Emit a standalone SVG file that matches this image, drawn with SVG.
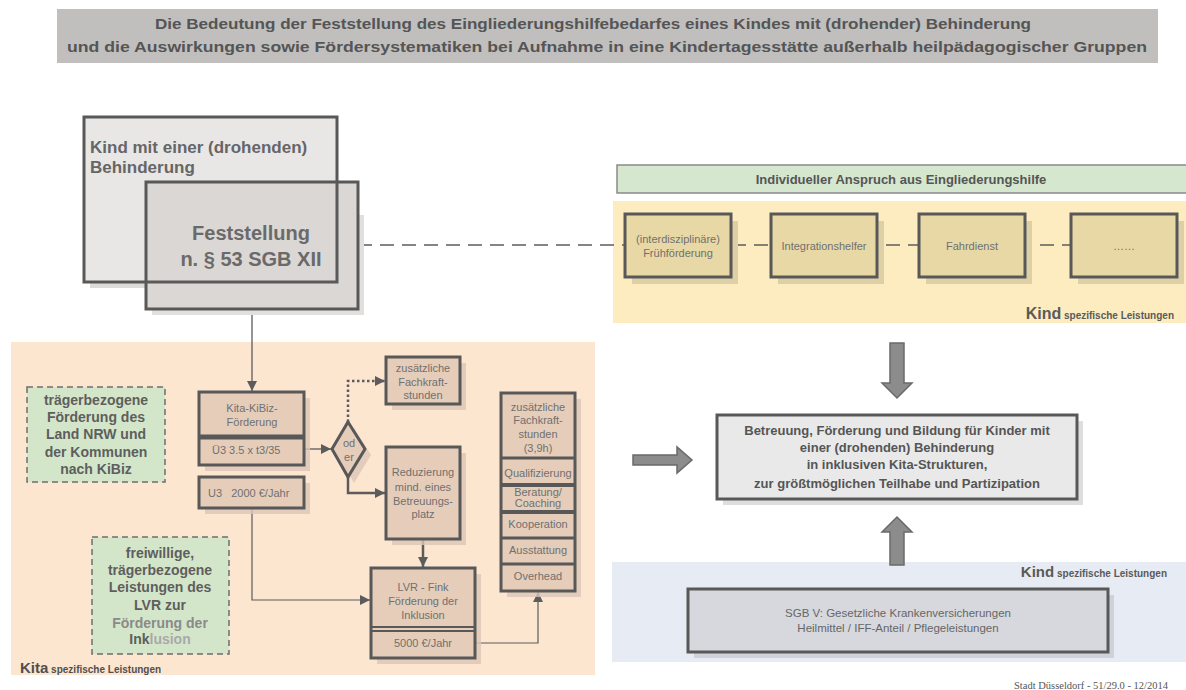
<svg xmlns="http://www.w3.org/2000/svg" width="1186" height="690" viewBox="0 0 1186 690">
<defs>
<style>
text{font-family:"Liberation Sans",Arial,sans-serif}
.b{font-weight:bold}
.s{font-size:11px;fill:#707070}
.bx{stroke:#585858;stroke-width:3}
.pb{fill:#e5cdb9}
.psh{fill:#dcc6b5;opacity:0.8}
.yb{fill:#e8d8a5}
.ysh{fill:#ddcfa6}
.gd{fill:#d4e6c9;stroke:#6e6e6e;stroke-width:1.5;stroke-dasharray:6,4}
.gt{font-size:14px;font-weight:bold;fill:#5e5e5e;text-anchor:middle}
.ln{fill:none;stroke:#5c5c5c}
.blk{fill:#8c8c8c;stroke:#6a6a6a;stroke-width:1.5}
.m{text-anchor:middle}
</style>
<marker id="ah" viewBox="0 0 10 10" refX="10" refY="5" markerWidth="10" markerHeight="10" markerUnits="userSpaceOnUse" orient="auto">
<path d="M0,0 L10,5 L0,10 z" fill="#5c5c5c"/>
</marker>
</defs>
<rect width="1186" height="690" fill="#ffffff"/>
<!-- background regions -->
<rect x="57" y="9" width="1101" height="54" fill="#c0bfbd"/>
<text class="b m" x="593" y="29" font-size="15" fill="#555" textLength="876" lengthAdjust="spacingAndGlyphs">Die Bedeutung der Feststellung des Eingliederungshilfebedarfes eines Kindes mit (drohender) Behinderung</text>
<text class="b m" x="607" y="52" font-size="15" fill="#555" textLength="1080" lengthAdjust="spacingAndGlyphs">und die Auswirkungen sowie Fördersystematiken bei Aufnahme in eine Kindertagesstätte außerhalb heilpädagogischer Gruppen</text>
<rect x="613" y="201" width="573" height="122" fill="#fcecc0"/>
<rect x="11" y="342" width="584" height="333" fill="#fde6d0"/>
<rect x="612" y="562" width="574" height="100" fill="#e7ebf3"/>
<text x="1174" y="319" text-anchor="end" class="b" fill="#5a5a5a"><tspan font-size="16">Kind</tspan><tspan font-size="10"> spezifische Leistungen</tspan></text>
<text x="20" y="673" class="b" fill="#4f4f4f"><tspan font-size="15">Kita</tspan><tspan font-size="10"> spezifische Leistungen</tspan></text>
<text x="1167" y="577" text-anchor="end" class="b" fill="#5a5a5a"><tspan font-size="15">Kind</tspan><tspan font-size="10"> spezifische Leistungen</tspan></text>
<text x="1168" y="689" text-anchor="end" style="font-family:'Liberation Serif',serif" font-size="10.5" fill="#555">Stadt Düsseldorf - 51/29.0 - 12/2014</text>

<!-- connectors -->
<g id="connectors">
<line class="ln" x1="358" y1="245" x2="1071" y2="245" stroke-width="1.3" stroke-dasharray="14,8"/>
<line class="ln" x1="252" y1="309" x2="252" y2="391" stroke-width="1.3" marker-end="url(#ah)"/>
<line class="ln" x1="304" y1="449" x2="331" y2="449" stroke-width="1.3" marker-end="url(#ah)"/>
<polyline class="ln" points="348,422 348,381 385,381" stroke-width="2.5" stroke-dasharray="2.5,2.5" marker-end="url(#ah)"/>
<polyline class="ln" points="348,477 348,493 385,493" stroke-width="2.5" marker-end="url(#ah)"/>
<line class="ln" x1="423" y1="539" x2="423" y2="567" stroke-width="2.5" marker-end="url(#ah)"/>
<polyline class="ln" points="252,508 252,600 370,600" stroke-width="1.2" marker-end="url(#ah)"/>
<polyline class="ln" points="475,643 538,643 538,592" stroke-width="1.2" marker-end="url(#ah)"/>
<path id="arrow-down" class="blk" d="M890,343 H904 V383 H912 L897,398 L882,383 H890 Z"/>
<path id="arrow-up" class="blk" d="M890,565 H904 V532 H912 L897,517 L882,532 H890 Z"/>
<path id="arrow-right" class="blk" d="M633,455 H677 V447 L692,460 L677,473 V465 H633 Z"/>
</g>

<!-- top-left nodes -->
<g id="kind">
<rect x="90" y="215" width="253" height="73" fill="#dddcdb"/>
<rect class="bx" x="84" y="117" width="253" height="165" fill="#e8e7e6"/>
<text class="b" x="90" y="153" font-size="17" fill="#666">Kind mit einer (drohenden)</text>
<text class="b" x="90" y="173" font-size="17" fill="#666">Behinderung</text>
</g>
<g id="feststellung">
<rect x="152" y="215" width="212" height="100" fill="#e2e0df"/>
<rect x="146" y="182" width="212" height="127" fill="#dbd7d4"/>
<path d="M337,182 V282 H146" fill="none" stroke="#5a5a5a" stroke-width="3"/>
<rect x="146" y="182" width="212" height="127" fill="none" class="bx"/>
<text class="b m" x="251" y="240" font-size="20" fill="#6a6a6a">Feststellung</text>
<text class="b m" x="251" y="266" font-size="20" fill="#6a6a6a">n. § 53 SGB XII</text>
</g>

<!-- right top -->
<g id="anspruch">
<rect x="617" y="165" width="575" height="28" fill="#d5e7cf" stroke="#8a8a8a" stroke-width="1.5"/>
<text class="b m" x="901" y="184" font-size="13" fill="#555">Individueller Anspruch aus Eingliederungshilfe</text>
</g>
<g id="fruehfoerderung">
<rect class="ysh" x="632" y="221" width="106" height="63"/>
<rect class="yb bx" x="625" y="214" width="106" height="63" stroke-width="3.5"/>
<text class="s m" x="678" y="243">(interdisziplinäre)</text>
<text class="s m" x="678" y="257">Frühförderung</text>
</g>
<g id="integrationshelfer">
<rect class="ysh" x="778" y="221" width="106" height="63"/>
<rect class="yb bx" x="771" y="214" width="106" height="63" stroke-width="3.5"/>
<text class="s m" x="824" y="250">Integrationshelfer</text>
</g>
<g id="fahrdienst">
<rect class="ysh" x="926" y="221" width="106" height="63"/>
<rect class="yb bx" x="919" y="214" width="106" height="63" stroke-width="3.5"/>
<text class="s m" x="972" y="250">Fahrdienst</text>
</g>
<g id="weitere">
<rect class="ysh" x="1078" y="221" width="106" height="63"/>
<rect class="yb bx" x="1071" y="214" width="106" height="63" stroke-width="3.5"/>
<text class="s m" x="1124" y="250">……</text>
</g>

<!-- center -->
<g id="ziel">
<rect x="723" y="421" width="360" height="84" fill="#dedede"/>
<rect class="bx" x="717" y="415" width="360" height="84" fill="#e9e9e9"/>
<text class="b m" x="897" y="435" font-size="13" fill="#555">Betreuung, Förderung und Bildung für Kinder mit</text>
<text class="b m" x="897" y="452" font-size="13" fill="#555">einer (drohenden) Behinderung</text>
<text class="b m" x="897" y="469" font-size="13" fill="#555">in inklusiven Kita-Strukturen,</text>
<text class="b m" x="897" y="488" font-size="13" fill="#555">zur größtmöglichen Teilhabe und Partizipation</text>
</g>
<g id="sgbv">
<rect x="694" y="595" width="420" height="63" fill="#cfd2d8"/>
<rect class="bx" x="688" y="589" width="420" height="63" fill="#d6d8dd"/>
<text class="m" x="898" y="617" font-size="11.5" fill="#666">SGB V: Gesetzliche Krankenversicherungen</text>
<text class="m" x="898" y="632" font-size="11.5" fill="#666">Heilmittel / IFF-Anteil / Pflegeleistungen</text>
</g>

<!-- left bottom -->
<g id="traeger-land">
<rect class="gd" x="27" y="387" width="138" height="95"/>
<text class="gt" x="96" y="405">trägerbezogene</text>
<text class="gt" x="96" y="422">Förderung des</text>
<text class="gt" x="96" y="439">Land NRW und</text>
<text class="gt" x="96" y="457">der Kommunen</text>
<text class="gt" x="96" y="474">nach KiBiz</text>
</g>
<g id="traeger-lvr">
<rect class="gd" x="92" y="537" width="137" height="117"/>
<text class="gt" x="160" y="558">freiwillige,</text>
<text class="gt" x="160" y="575">trägerbezogene</text>
<text class="gt" x="160" y="592">Leistungen des</text>
<text class="gt" x="160" y="610">LVR zur</text>
<text class="gt" x="160" y="628" style="fill:#8a8a8a">Förderung der</text>
<text class="gt" x="160" y="644"><tspan fill="#5e5e5e">Ink</tspan><tspan fill="#a9a9a9">lusion</tspan></text>
</g>
<g id="kibiz">
<rect class="psh" x="205" y="398" width="105" height="73"/>
<rect class="pb bx" x="199" y="392" width="105" height="73"/>
<line x1="199" y1="437" x2="304" y2="437" stroke="#585858" stroke-width="5"/>
<text class="s m" x="252" y="412">Kita-KiBiz-</text>
<text class="s m" x="252" y="426">Förderung</text>
<text class="s" x="212" y="454">Ü3  3.5 x t3/35</text>
</g>
<g id="u3">
<rect class="psh" x="205" y="483" width="105" height="31"/>
<rect class="pb bx" x="199" y="477" width="105" height="31"/>
<text class="s" x="208" y="497" xml:space="preserve">U3   2000 €/Jahr</text>
</g>
<g id="oder">
<polygon points="354,428 371,455 354,483 338,455" fill="#dcc6b5" opacity="0.8"/>
<polygon class="pb bx" points="348,422 365,449 348,477 332,449"/>
<text class="s m" x="349" y="447">od</text>
<text class="s m" x="349" y="461">er</text>
</g>
<g id="fachkraft">
<rect class="psh" x="392" y="363" width="74" height="47"/>
<rect class="pb bx" x="386" y="357" width="74" height="47"/>
<text class="s m" x="423" y="372">zusätzliche</text>
<text class="s m" x="423" y="386">Fachkraft-</text>
<text class="s m" x="423" y="399">stunden</text>
</g>
<g id="reduzierung">
<rect class="psh" x="392" y="453" width="74" height="92"/>
<rect class="pb bx" x="386" y="447" width="74" height="92"/>
<text class="s m" x="423" y="476">Reduzierung</text>
<text class="s m" x="423" y="491">mind. eines</text>
<text class="s m" x="423" y="505">Betreuungs-</text>
<text class="s m" x="423" y="518">platz</text>
</g>
<g id="lvr-fink">
<rect class="psh" x="377" y="574" width="104" height="90"/>
<rect class="pb bx" x="371" y="568" width="104" height="90"/>
<line x1="371" y1="627" x2="475" y2="627" stroke="#585858" stroke-width="2"/>
<line x1="371" y1="631" x2="475" y2="631" stroke="#585858" stroke-width="2"/>
<text class="s m" x="423" y="591">LVR - Fink</text>
<text class="s m" x="423" y="605">Förderung der</text>
<text class="s m" x="423" y="619">Inklusion</text>
<text class="s m" x="423" y="647">5000 €/Jahr</text>
</g>
<g id="leistungen">
<rect class="psh" x="507" y="399" width="74" height="198"/>
<rect class="pb bx" x="501" y="393" width="74" height="198"/>
<line x1="501" y1="458" x2="575" y2="458" stroke="#585858" stroke-width="3"/>
<line x1="501" y1="485" x2="575" y2="485" stroke="#585858" stroke-width="4"/>
<line x1="501" y1="512" x2="575" y2="512" stroke="#585858" stroke-width="4"/>
<line x1="501" y1="538" x2="575" y2="538" stroke="#585858" stroke-width="3"/>
<line x1="501" y1="564" x2="575" y2="564" stroke="#585858" stroke-width="3"/>
<text class="s m" x="538" y="411" font-size="10.5">zusätzliche</text>
<text class="s m" x="538" y="424" font-size="10.5">Fachkraft-</text>
<text class="s m" x="538" y="438" font-size="10.5">stunden</text>
<text class="s m" x="538" y="452" font-size="10.5">(3,9h)</text>
<text class="s m" x="538" y="477" font-size="10.5">Qualifizierung</text>
<text class="s m" x="538" y="496" font-size="10.5">Beratung/</text>
<text class="s m" x="538" y="507" font-size="10.5">Coaching</text>
<text class="s m" x="538" y="528" font-size="10.5">Kooperation</text>
<text class="s m" x="538" y="554" font-size="10.5">Ausstattung</text>
<text class="s m" x="538" y="580" font-size="10.5">Overhead</text>
</g>
</svg>
